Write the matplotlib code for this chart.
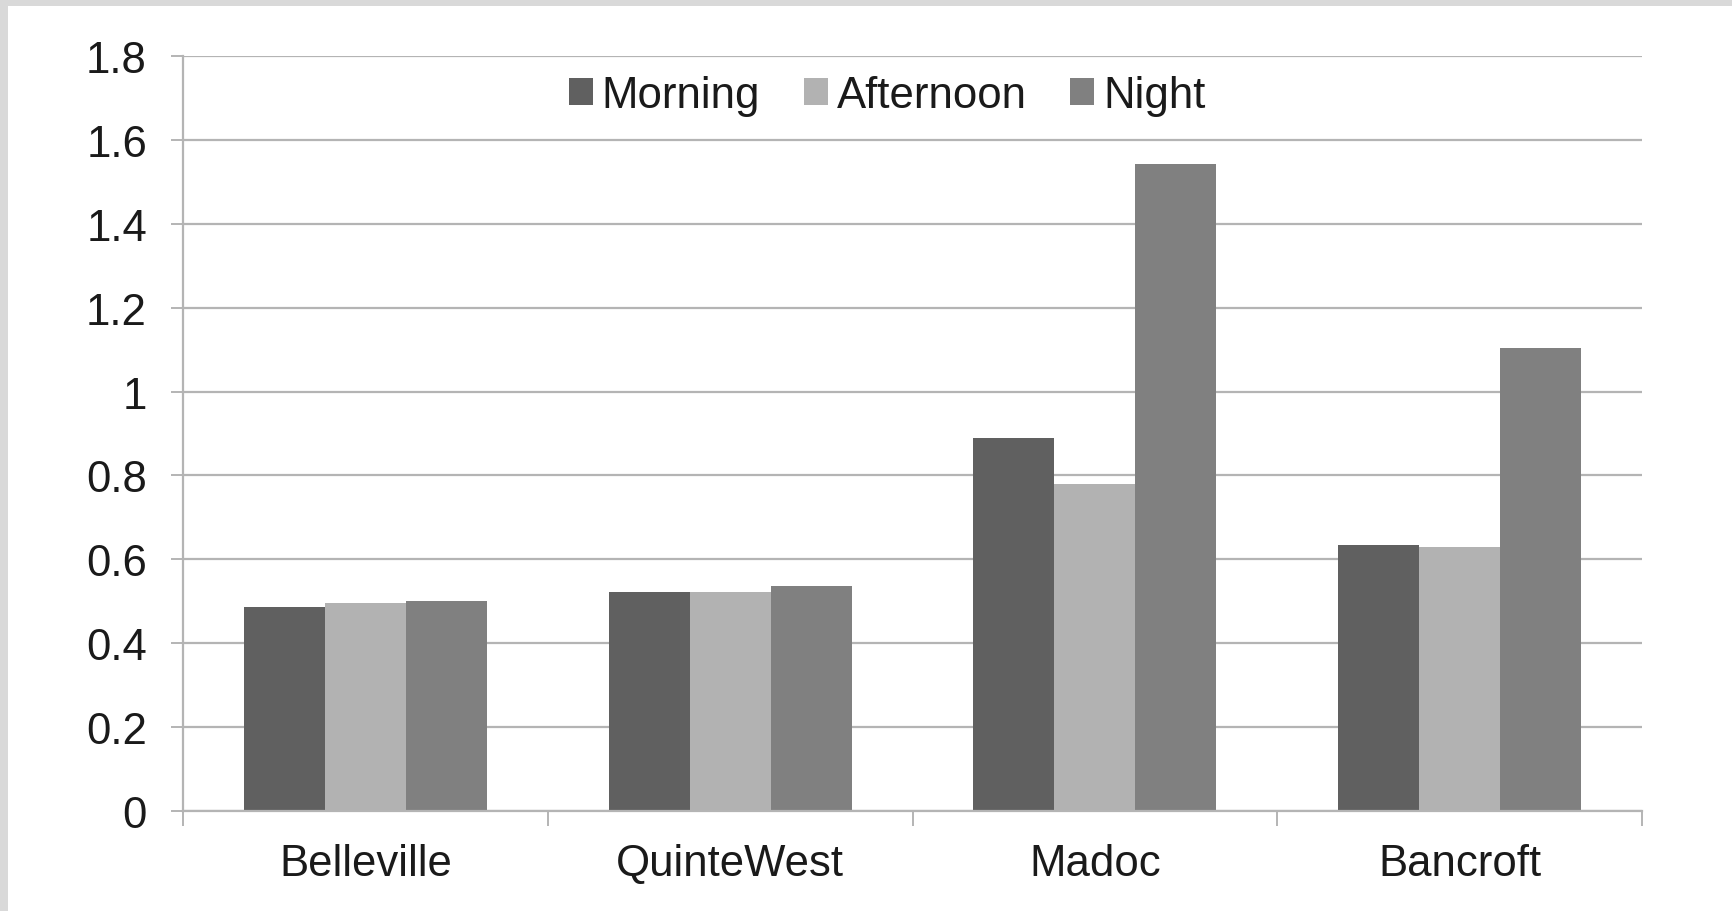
import matplotlib
matplotlib.use("Agg")
import matplotlib.pyplot as plt
from matplotlib.patches import Rectangle
import numpy as np

plt.rcParams['font.family'] = ['Liberation Sans', 'DejaVu Sans']

categories = ["Belleville", "QuinteWest", "Madoc", "Bancroft"]
series_names = ["Morning", "Afternoon", "Night"]
morning = [0.487, 0.521, 0.889, 0.634]
afternoon = [0.497, 0.521, 0.780, 0.629]
night = [0.500, 0.537, 1.542, 1.105]
y_ticks = [0, 0.2, 0.4, 0.6, 0.8, 1, 1.2, 1.4, 1.6, 1.8]
y_tick_labels = ["0", "0.2", "0.4", "0.6", "0.8", "1", "1.2", "1.4", "1.6", "1.8"]

colors = ["#606060", "#b2b2b2", "#808080"]
grid_color = "#b4b4b4"
text_color = "#1a1a1a"
font_size = 31.5

W, H = 1732, 912
fig = plt.figure(figsize=(W / 100, H / 100), dpi=100, facecolor="#d9d9d9")
# white canvas inset from the grey frame on the left and top
fig.patches.append(Rectangle((8 / W, 0), 1 - 8 / W, 1 - 7 / H,
                             transform=fig.transFigure, facecolor="white",
                             edgecolor="none", zorder=-10))

ax = fig.add_axes([183 / W, 1 - 812 / H, (1642 - 183) / W, (812 - 57) / H])
ax.set_facecolor("none")

x = np.arange(len(categories))
bar_w = (2 / 3) / 3
for i, (vals, name) in enumerate(zip([morning, afternoon, night], series_names)):
    ax.bar(x + (i - 1) * bar_w, vals, width=bar_w, color=colors[i],
           label=name, zorder=3, linewidth=0)

ax.set_xlim(-0.5, len(categories) - 0.5)
ax.set_ylim(0, 1.8)
ax.set_yticks(y_ticks)
ax.set_yticklabels(y_tick_labels)
ax.yaxis.grid(True, color=grid_color, linewidth=1.6, zorder=1)

ax.set_xticks(x)
ax.set_xticklabels(categories)
ax.set_xticks(np.arange(len(categories) + 1) - 0.5, minor=True)
ax.tick_params(axis="x", which="major", length=0, pad=23, labelsize=font_size,
               colors=text_color)
ax.tick_params(axis="x", which="minor", length=11, width=1.4, color=grid_color)
ax.tick_params(axis="y", length=9, width=1.4, color=grid_color, pad=17,
               labelsize=font_size, labelcolor=text_color)

for side in ["top", "right"]:
    ax.spines[side].set_visible(False)
for side in ["left", "bottom"]:
    ax.spines[side].set_color(grid_color)
    ax.spines[side].set_linewidth(1.6)
    ax.spines[side].set_zorder(4)

leg = ax.legend(loc="center", bbox_to_anchor=(0.4825, 0.9475), ncol=3,
                frameon=False, fontsize=font_size, handlelength=0.55,
                handleheight=0.55, handletextpad=0.2, columnspacing=1.0,
                borderaxespad=0, borderpad=0)
for t in leg.get_texts():
    t.set_color(text_color)

fig.savefig("out.png", dpi=100, facecolor=fig.get_facecolor())
